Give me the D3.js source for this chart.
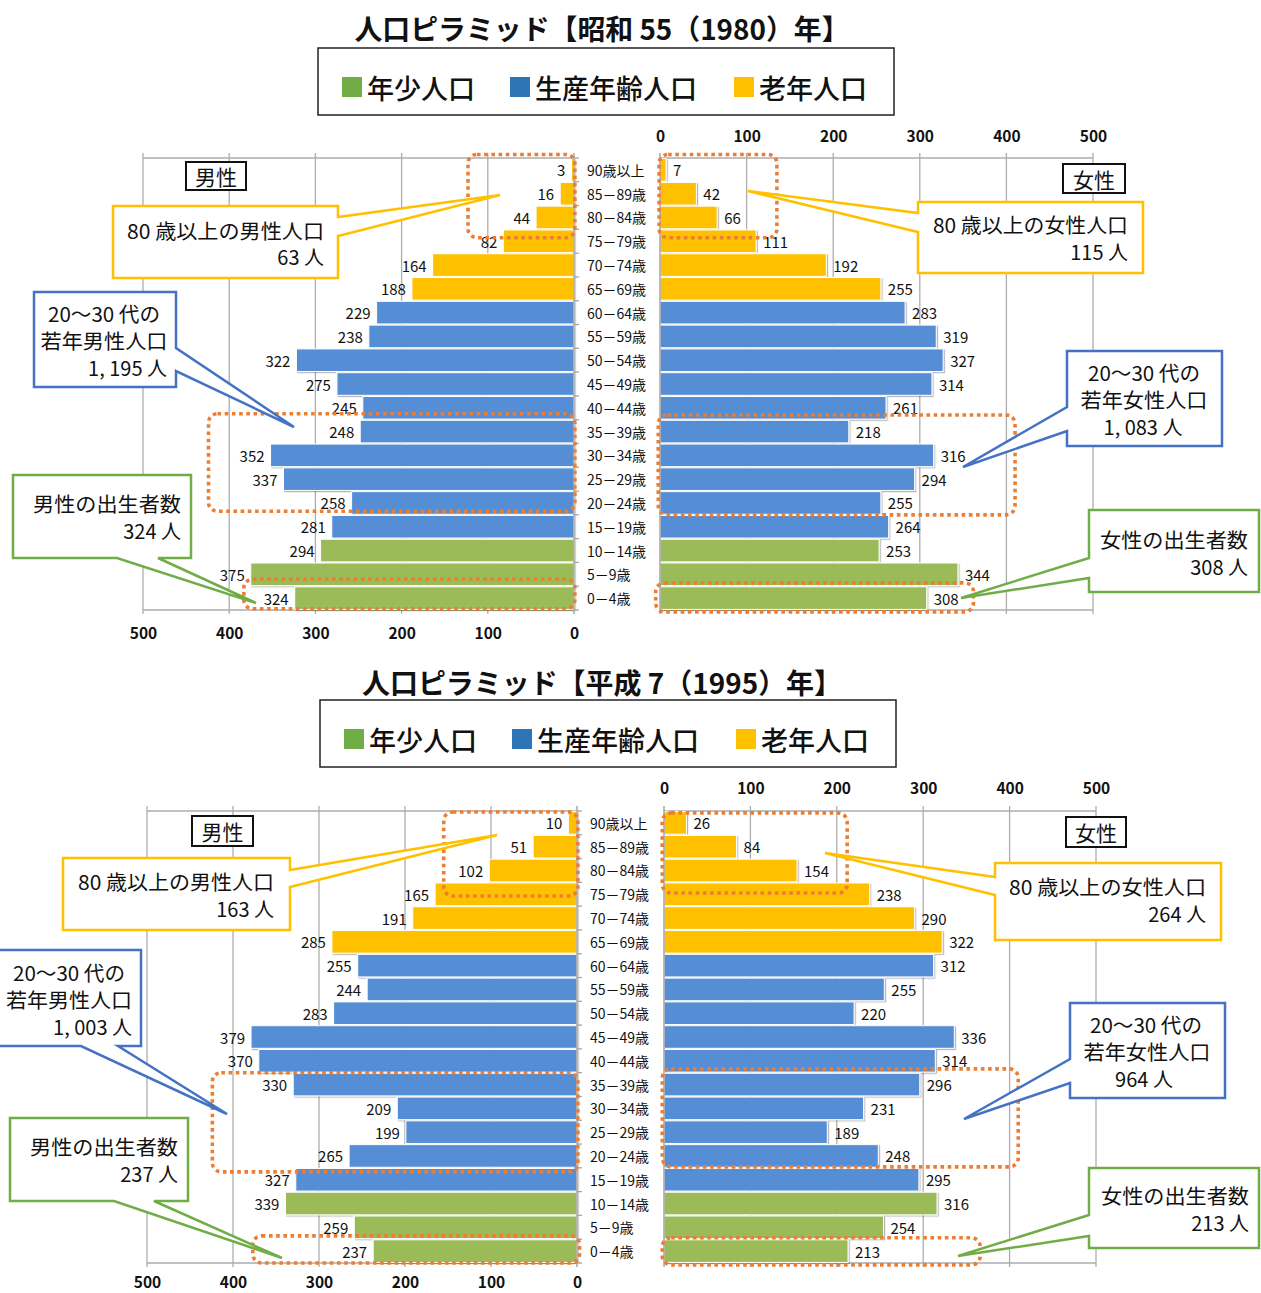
<!DOCTYPE html>
<html>
<head>
<meta charset="utf-8">
<script src="https://cdn.jsdelivr.net/npm/d3@7"></script>
<style>
  body { margin: 0; background: #fff; }
  svg { display: block; }
  text { font-family: "Noto Sans CJK JP", "Noto Sans", sans-serif; fill: #111; }
</style>
</head>
<body>
<svg id="chart" width="1261" height="1293"></svg>
<script>
// ---- data -------------------------------------------------------------
const ageGroups = ["90歳以上","85－89歳","80－84歳","75－79歳","70－74歳","65－69歳",
  "60－64歳","55－59歳","50－54歳","45－49歳","40－44歳","35－39歳","30－34歳",
  "25－29歳","20－24歳","15－19歳","10－14歳","5－9歳","0－4歳"];
const ageKind = ["老年人口","老年人口","老年人口","老年人口","老年人口","老年人口",
  "生産年齢人口","生産年齢人口","生産年齢人口","生産年齢人口","生産年齢人口","生産年齢人口",
  "生産年齢人口","生産年齢人口","生産年齢人口","生産年齢人口","年少人口","年少人口","年少人口"];

const male1980   = [3,16,44,82,164,188,229,238,322,275,245,248,352,337,258,281,294,375,324];
const female1980 = [7,42,66,111,192,255,283,319,327,314,261,218,316,294,255,264,253,344,308];
const male1995   = [10,51,102,165,191,285,255,244,283,379,370,330,209,199,265,327,339,259,237];
const female1995 = [26,84,154,238,290,322,312,255,220,336,314,296,231,189,248,295,316,254,213];

const axisTicks = [0,100,200,300,400,500];
const legendLabels = ["年少人口","生産年齢人口","老年人口"];
const titles = ["人口ピラミッド【昭和 55（1980）年】","人口ピラミッド【平成 7（1995）年】"];
const genderLabels = ["男性","女性"];
const elderlyLabels = ["80 歳以上の男性人口","80 歳以上の女性人口"];
const youngLabels = [["20～30 代の","若年男性人口"],["20～30 代の","若年女性人口"]];
const birthLabels = ["男性の出生者数","女性の出生者数"];

// ---- styles -----------------------------------------------------------
const barColor = {"年少人口":"#9BBB59","生産年齢人口":"#558ED5","老年人口":"#FFC000"};
const legendColor = {"年少人口":"#70AD47","生産年齢人口":"#2E75B6","老年人口":"#FFC000"};
const YEL = "#FFC000", BLU = "#4472C4", GRN = "#70AD47", ORG = "#ED7D31";
const GRID = "#ADADAD";
const LEGEND_ITEM_X = [24,192,416];

const fmtPeople = n => d3.format(",")(n).replace(/,/g, ", ") + " 人";

// ---- layout of the two pyramids -----------------------------------------
const layouts = [
  {
    title: titles[0], titleX: 602, titleY: 28, titleLen: 495,
    legend: [318,48],
    male: male1980, female: female1980,
    maleRange: [574,143], femaleRange: [660,1093], top: 158, bottom: 610,
    catX: 587, maleTickY: 632, femaleTickY: 135,
    genderBoxes: [[186,162,60,28],[1063,164,62,29]],
    marks: [
      {side:"m", v:[-1,123], r:[-0.15,3.35]},
      {side:"f", v:[-1,135], r:[-0.15,3.35]},
      {side:"m", v:[-1,424], r:[10.75,14.85]},
      {side:"f", v:[-2,410], r:[10.8,15.0]},
      {side:"m", v:[-1,383], r:[17.7,18.95]},
      {side:"f", v:[-5,362], r:[17.86,19.08]}
    ],
    callouts: {
      elderM: {box:[113,206,225,72], side:"right", p:[217,236], tip:[500,195], pos:[[324,230,"end",197],[324,256,"end"]]},
      elderF: {box:[918,202,225,71], side:"left", p:[213,232], tip:[748,191], pos:[[1128,224,"end",195],[1128,251,"end"]]},
      youngM: {box:[34,292,142,95], side:"right", p:[348,371], tip:[294,427], pos:[[104,313,"middle",112],[104,340,"middle",127],[167,367,"end"]]},
      youngF: {box:[1067,351,155,95], side:"left", p:[407,431], tip:[963,467], pos:[[1144,372,"middle",112],[1144,399,"middle",127],[1143,426,"middle"]]},
      birthM: {box:[13,475,178,83], side:"bottom", p:[117,158], tip:[256,603], pos:[[181,503,"end",148],[181,530,"end"]]},
      birthF: {box:[1089,510,170,82], side:"left", p:[558,578], tip:[961,598], pos:[[1248,539,"end",148],[1248,566,"end"]]}
    }
  },
  {
    title: titles[1], titleX: 602, titleY: 682, titleLen: 480,
    legend: [320,700],
    male: male1995, female: female1995,
    maleRange: [577,147], femaleRange: [664,1096], top: 811, bottom: 1263,
    catX: 590, maleTickY: 1281, femaleTickY: 787,
    genderBoxes: [[192,816,61,30],[1066,817,60,30]],
    marks: [
      {side:"m", v:[-1,155], r:[0.04,3.57]},
      {side:"f", v:[-2,212], r:[0.08,3.45]},
      {side:"m", v:[-1,424], r:[11.0,15.17]},
      {side:"f", v:[-2,410], r:[10.84,14.96]},
      {side:"m", v:[-3,377], r:[17.86,19.0]},
      {side:"f", v:[-2,366], r:[17.94,19.08]}
    ],
    callouts: {
      elderM: {box:[63,858,227,72], side:"right", p:[870,887], tip:[497,835], pos:[[274,881,"end",196],[274,908,"end"]]},
      elderF: {box:[995,863,226,77], side:"left", p:[877,895], tip:[825,853], pos:[[1206,886,"end",197],[1206,913,"end"]]},
      youngM: {box:[-2,950,143,96], side:"bottom", p:[81,118], tip:[227,1114], pos:[[69,972,"middle",112],[69,999,"middle",126],[132,1026,"end"]]},
      youngF: {box:[1070,1003,155,95], side:"left", p:[1059,1083], tip:[964,1119], pos:[[1146,1024,"middle",112],[1147,1051,"middle",127],[1144,1078,"middle"]]},
      birthM: {box:[10,1118,178,83], side:"bottom", p:[114,154], tip:[282,1258], pos:[[178,1146,"end",148],[178,1173,"end"]]},
      birthF: {box:[1089,1168,170,80], side:"left", p:[1215,1236], tip:[958,1256], pos:[[1249,1195,"end",148],[1249,1222,"end"]]}
    }
  }
];

const svg = d3.select("#chart");
const defs = svg.append("defs");
defs.append("filter").attr("id","barShadow")
  .attr("x","-10%").attr("y","-30%").attr("width","125%").attr("height","170%")
  .append("feDropShadow").attr("dx",1.2).attr("dy",1.2).attr("stdDeviation",0.7)
  .attr("flood-color","#000").attr("flood-opacity",0.3);

// Rectangle outline with a wedge-shaped pointer on one edge
function calloutPath(c) {
  const [x,y,w,h] = c.box, [p1,p2] = c.p, tip = c.tip;
  const pts = [[x,y]];
  pts.push([x+w,y]);
  if (c.side === "right") pts.push([x+w,p1], tip, [x+w,p2]);
  pts.push([x+w,y+h]);
  if (c.side === "bottom") pts.push([p2,y+h], tip, [p1,y+h]);
  pts.push([x,y+h]);
  if (c.side === "left") pts.push([x,p2], tip, [x,p1]);
  return d3.line()(pts) + "Z";
}

function drawCallout(g, c, color, lines) {
  g.append("path").attr("d", calloutPath(c))
    .attr("fill","#fff").attr("stroke",color).attr("stroke-width",2.5)
    .attr("stroke-linejoin","miter");
  lines.forEach((t,i) => {
    const [x,y,anchor,len] = c.pos[i];
    const tx = g.append("text").attr("x",x).attr("y",y)
      .attr("text-anchor",anchor).attr("dominant-baseline","central")
      .attr("font-size",20).text(t);
    if (len) tx.attr("textLength",len).attr("lengthAdjust","spacingAndGlyphs");
  });
}

function drawPyramid(cfg) {
  const g = svg.append("g");
  const y = d3.scaleBand().domain(ageGroups).range([cfg.top, cfg.bottom])
    .paddingInner(0.05).paddingOuter(0.025);
  const xM = d3.scaleLinear().domain([0,500]).range(cfg.maleRange);
  const xF = d3.scaleLinear().domain([0,500]).range(cfg.femaleRange);
  const rowY = r => cfg.top + r * y.step();

  // title
  g.append("text").attr("x",cfg.titleX).attr("y",cfg.titleY)
    .attr("text-anchor","middle").attr("dominant-baseline","central")
    .attr("font-size",28).attr("font-weight",700)
    .attr("textLength",cfg.titleLen).attr("lengthAdjust","spacingAndGlyphs")
    .text(cfg.title);

  // legend
  const lg = g.append("g").attr("transform",`translate(${cfg.legend[0]},${cfg.legend[1]})`);
  lg.append("rect").attr("width",576).attr("height",67)
    .attr("fill","#fff").attr("stroke","#222").attr("stroke-width",1.5);
  const items = lg.selectAll("g.item").data(legendLabels).join("g")
    .attr("class","item").attr("transform",(d,i)=>`translate(${LEGEND_ITEM_X[i]},29)`);
  items.append("rect").attr("width",20).attr("height",20).attr("fill",d=>legendColor[d]);
  items.append("text").attr("x",25).attr("y",10).attr("dominant-baseline","central")
    .attr("font-size",27).attr("font-weight",500).text(d=>d);

  // gridlines and frame for both halves
  [[xM,cfg.maleRange],[xF,cfg.femaleRange]].forEach(([x,r]) => {
    g.append("g").selectAll("line").data(axisTicks.slice(1)).join("line")
      .attr("x1",d=>x(d)).attr("x2",d=>x(d))
      .attr("y1",cfg.top-5).attr("y2",cfg.bottom+4)
      .attr("stroke",GRID).attr("stroke-width",1.3);
    [cfg.top,cfg.bottom].forEach(yy => g.append("line")
      .attr("x1",r[0]).attr("x2",r[1]).attr("y1",yy).attr("y2",yy)
      .attr("stroke",GRID).attr("stroke-width",1.5));
  });

  // tick labels
  const axM = g.append("g").attr("transform",`translate(0,${cfg.maleTickY})`)
    .call(d3.axisBottom(xM).tickValues(axisTicks).tickSize(0).tickPadding(0));
  const axF = g.append("g").attr("transform",`translate(0,${cfg.femaleTickY})`)
    .call(d3.axisTop(xF).tickValues(axisTicks).tickSize(0).tickPadding(0));
  [axM,axF].forEach(ax => {
    ax.select(".domain").remove();
    ax.attr("font-family",null).attr("font-size",15.5).attr("font-weight",700);
    ax.selectAll("text").attr("y",0).attr("dy",null)
      .attr("dominant-baseline","central").attr("fill","#111");
  });

  // bars
  const bars = g.append("g").attr("filter","url(#barShadow)");
  bars.selectAll("rect.m").data(cfg.male).join("rect").attr("class","m")
    .attr("x",d=>xM(d)).attr("y",(d,i)=>y(ageGroups[i]))
    .attr("width",d=>xM(0)-xM(d)).attr("height",y.bandwidth())
    .attr("fill",(d,i)=>barColor[ageKind[i]]).attr("stroke","#fff").attr("stroke-width",1);
  bars.selectAll("rect.f").data(cfg.female).join("rect").attr("class","f")
    .attr("x",xF(0)).attr("y",(d,i)=>y(ageGroups[i]))
    .attr("width",d=>xF(d)-xF(0)).attr("height",y.bandwidth())
    .attr("fill",(d,i)=>barColor[ageKind[i]]).attr("stroke","#fff").attr("stroke-width",1);

  // zero axes
  g.append("line").attr("x1",xM(0)).attr("x2",xM(0)).attr("y1",cfg.top-5).attr("y2",cfg.bottom+4)
    .attr("stroke","#A6A6A6").attr("stroke-width",1.5);
  g.append("line").attr("x1",xF(0)).attr("x2",xF(0)).attr("y1",cfg.top-5).attr("y2",cfg.bottom+4)
    .attr("stroke","#A6A6A6").attr("stroke-width",1.5);
  g.append("g").selectAll("line").data(d3.range(ageGroups.length+1)).join("line")
    .attr("x1",xM(0)).attr("x2",xM(0)+5).attr("y1",d=>rowY(d)).attr("y2",d=>rowY(d))
    .attr("stroke","#A6A6A6").attr("stroke-width",1.3);

  // category labels
  g.append("g").selectAll("text").data(ageGroups).join("text")
    .attr("x",cfg.catX).attr("y",d=>y(d)+y.bandwidth()/2)
    .attr("dominant-baseline","central").attr("font-size",14).text(d=>d);

  // value labels
  g.append("g").selectAll("text").data(cfg.male).join("text")
    .attr("x",d=>xM(d)-6).attr("y",(d,i)=>y(ageGroups[i])+y.bandwidth()/2)
    .attr("text-anchor","end").attr("dominant-baseline","central")
    .attr("font-size",15).text(d=>d);
  g.append("g").selectAll("text").data(cfg.female).join("text")
    .attr("x",d=>xF(d)+7).attr("y",(d,i)=>y(ageGroups[i])+y.bandwidth()/2)
    .attr("dominant-baseline","central")
    .attr("font-size",15).text(d=>d);

  // dotted highlight frames
  g.append("g").selectAll("rect").data(cfg.marks).join("rect")
    .attr("x",d=>{ const s = d.side==="m"?xM:xF; return Math.min(s(d.v[0]),s(d.v[1])); })
    .attr("width",d=>{ const s = d.side==="m"?xM:xF; return Math.abs(s(d.v[1])-s(d.v[0])); })
    .attr("y",d=>rowY(d.r[0])).attr("height",d=>rowY(d.r[1])-rowY(d.r[0]))
    .attr("rx",9).attr("ry",9)
    .attr("fill","none").attr("stroke",ORG).attr("stroke-width",3.6)
    .attr("stroke-dasharray","3.6 3.6");

  // callouts with values derived from the data
  const co = cfg.callouts;
  drawCallout(g, co.elderM, YEL, [elderlyLabels[0], fmtPeople(d3.sum(cfg.male.slice(0,3)))]);
  drawCallout(g, co.elderF, YEL, [elderlyLabels[1], fmtPeople(d3.sum(cfg.female.slice(0,3)))]);
  drawCallout(g, co.youngM, BLU, [...youngLabels[0], fmtPeople(d3.sum(cfg.male.slice(11,15)))]);
  drawCallout(g, co.youngF, BLU, [...youngLabels[1], fmtPeople(d3.sum(cfg.female.slice(11,15)))]);
  drawCallout(g, co.birthM, GRN, [birthLabels[0], fmtPeople(cfg.male[18])]);
  drawCallout(g, co.birthF, GRN, [birthLabels[1], fmtPeople(cfg.female[18])]);

  // gender tags
  cfg.genderBoxes.forEach((b,i) => {
    g.append("rect").attr("x",b[0]).attr("y",b[1]).attr("width",b[2]).attr("height",b[3])
      .attr("fill","#fff").attr("stroke","#111").attr("stroke-width",2);
    g.append("text").attr("x",b[0]+b[2]/2).attr("y",b[1]+b[3]/2)
      .attr("text-anchor","middle").attr("dominant-baseline","central")
      .attr("font-size",21).text(genderLabels[i]);
  });
}

layouts.forEach(drawPyramid);
</script>
</body>
</html>
